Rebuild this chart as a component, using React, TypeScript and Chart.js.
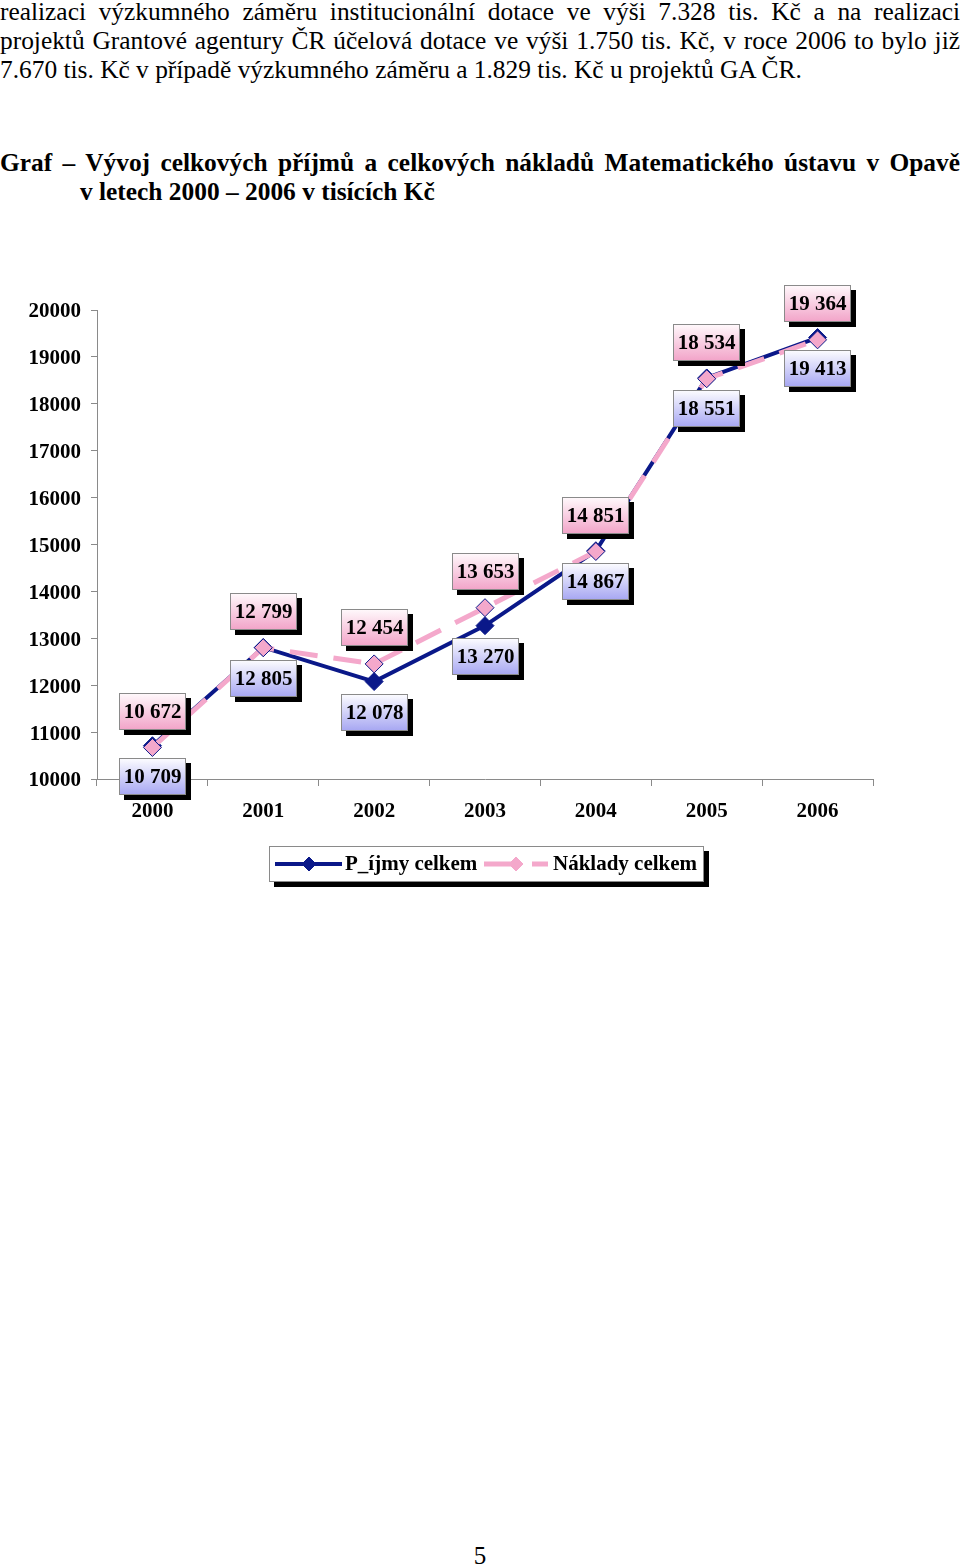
import React, { useEffect, useRef } from "react";
import { Chart, registerables } from "chart.js";

Chart.register(...registerables);

const years = ["2000", "2001", "2002", "2003", "2004", "2005", "2006"];
const prijmy = [10709, 12805, 12078, 13270, 14867, 18551, 19413];
const naklady = [10672, 12799, 12454, 13653, 14851, 18534, 19364];
const seriesNames = ["P_íjmy celkem", "Náklady celkem"];
const yMin = 10000;
const yMax = 20000;
const yStep = 1000;

const NAVY = "#0A1889";
const PINK = "#F4A8CB";
const SERIF = '"Liberation Serif", "Times New Roman", serif';
const CHART_FONT = { family: SERIF, size: 21, weight: "bold" as const };

const paragraphLines = [
  "realizaci výzkumného záměru institucionální dotace ve výši 7.328 tis. Kč a na realizaci",
  "projektů Grantové agentury ČR účelová dotace ve výši 1.750 tis. Kč, v roce 2006 to bylo již",
  "7.670 tis. Kč v případě výzkumného záměru a 1.829 tis. Kč u projektů GA ČR.",
];
const titleLine1 = "Graf – Vývoj celkových příjmů a celkových nákladů Matematického ústavu v Opavě";
const titleLine2 = "v letech 2000 – 2006 v tisících Kč";

const fmt = (v: number) => {
  const s = String(Math.round(v));
  return s.replace(/\B(?=(\d{3})+(?!\d))/g, " ");
};

const valueBoxes = {
  id: "valueBoxes",
  afterDatasetsDraw(chart: any) {
    const ctx = chart.ctx as CanvasRenderingContext2D;
    ctx.save();
    chart.data.datasets.forEach((ds: any, di: number) => {
      const meta = chart.getDatasetMeta(di);
      meta.data.forEach((pt: any, i: number) => {
        const v = ds.data[i];
        const w = 67;
        const h = 37;
        const cy = di === 1 ? pt.y - 36 : pt.y + 31;
        const x = Math.round(pt.x - w / 2);
        const y = Math.round(cy - h / 2);
        ctx.fillStyle = "#000";
        ctx.fillRect(x + 5, y + 5, w, h);
        const g = ctx.createLinearGradient(0, y, 0, y + h);
        if (di === 1) {
          g.addColorStop(0, "#FFFAFC");
          g.addColorStop(1, "#F2A3C8");
        } else {
          g.addColorStop(0, "#FDFDFF");
          g.addColorStop(1, "#A6A6F2");
        }
        ctx.fillStyle = g;
        ctx.fillRect(x, y, w, h);
        ctx.strokeStyle = "#8A8A8A";
        ctx.lineWidth = 1;
        ctx.strokeRect(x + 0.5, y + 0.5, w - 1, h - 1);
        ctx.fillStyle = "#000";
        ctx.font = `bold 21px ${SERIF}`;
        ctx.textAlign = "center";
        ctx.textBaseline = "middle";
        ctx.fillText(fmt(v), x + w / 2, y + h / 2 + 1);
      });
    });
    ctx.restore();
  },
};

function drawDiamond(ctx: CanvasRenderingContext2D, x: number, y: number, r: number, fill: string, stroke: string) {
  ctx.beginPath();
  ctx.moveTo(x, y - r);
  ctx.lineTo(x + r, y);
  ctx.lineTo(x, y + r);
  ctx.lineTo(x - r, y);
  ctx.closePath();
  ctx.fillStyle = fill;
  ctx.fill();
  ctx.lineWidth = 1;
  ctx.strokeStyle = stroke;
  ctx.stroke();
}

const boxLegend = {
  id: "boxLegend",
  afterDraw(chart: any) {
    const ctx = chart.ctx as CanvasRenderingContext2D;
    const ca = chart.chartArea;
    const cx = (ca.left + ca.right) / 2;
    const w = 435;
    const h = 36;
    const left = Math.round(cx - w / 2) + 1;
    const top = Math.round(ca.bottom + 67);
    const mid = top + h / 2;
    ctx.save();
    ctx.fillStyle = "#000";
    ctx.fillRect(left + 5, top + 5, w, h);
    ctx.fillStyle = "#fff";
    ctx.fillRect(left, top, w, h);
    ctx.strokeStyle = "#8A8A8A";
    ctx.lineWidth = 1;
    ctx.strokeRect(left + 0.5, top + 0.5, w - 1, h - 1);

    const ds = chart.data.datasets;
    ctx.strokeStyle = ds[0].borderColor;
    ctx.lineWidth = 4;
    ctx.setLineDash([]);
    ctx.beginPath();
    ctx.moveTo(left + 6, mid);
    ctx.lineTo(left + 73, mid);
    ctx.stroke();
    drawDiamond(ctx, left + 40, mid, 7, ds[0].pointBackgroundColor, ds[0].pointBorderColor);
    ctx.fillStyle = "#000";
    ctx.font = `bold 21px ${SERIF}`;
    ctx.textAlign = "left";
    ctx.textBaseline = "middle";
    ctx.fillText(ds[0].label, left + 76, mid + 1);

    ctx.strokeStyle = ds[1].borderColor;
    ctx.lineWidth = 5;
    ctx.setLineDash([30, 18]);
    ctx.beginPath();
    ctx.moveTo(left + 215, mid);
    ctx.lineTo(left + 279, mid);
    ctx.stroke();
    ctx.setLineDash([]);
    drawDiamond(ctx, left + 247, mid, 7, ds[1].pointBackgroundColor, ds[1].pointBackgroundColor);
    ctx.fillStyle = "#000";
    ctx.fillText(ds[1].label, left + 284, mid + 1);
    ctx.restore();
  },
};

function LineChart() {
  const ref = useRef<HTMLCanvasElement | null>(null);
  useEffect(() => {
    if (!ref.current) return;
    const chart = new Chart(ref.current, {
      type: "line",
      data: {
        labels: years,
        datasets: [
          {
            label: seriesNames[0],
            data: prijmy,
            borderColor: NAVY,
            backgroundColor: NAVY,
            borderWidth: 4,
            pointStyle: "rectRot",
            pointRadius: 9,
            pointBackgroundColor: NAVY,
            pointBorderColor: NAVY,
            pointBorderWidth: 1,
            tension: 0,
            order: 1,
          },
          {
            label: seriesNames[1],
            data: naklady,
            borderColor: PINK,
            backgroundColor: PINK,
            borderWidth: 5,
            borderDash: [28, 16],
            pointStyle: "rectRot",
            pointRadius: 9,
            pointBackgroundColor: PINK,
            pointBorderColor: NAVY,
            pointBorderWidth: 1,
            tension: 0,
            order: 0,
          },
        ],
      },
      options: {
        animation: false,
        responsive: false,
        devicePixelRatio: 1,
        layout: { padding: { top: 30, right: 87, bottom: 71, left: 0 } },
        plugins: {
          legend: { display: false },
          tooltip: { enabled: false },
        },
        scales: {
          x: {
            type: "category",
            offset: true,
            grid: {
              display: true,
              drawOnChartArea: false,
              offset: true,
              tickLength: 7,
              color: "#8A8A8A",
            },
            border: { display: true, color: "#8A8A8A", width: 1 },
            ticks: { font: CHART_FONT, color: "#000", padding: 13, maxRotation: 0 },
            afterFit: (s: any) => {
              s.height = 50;
            },
          },
          y: {
            min: yMin,
            max: yMax,
            grid: {
              display: true,
              drawOnChartArea: false,
              tickLength: 6,
              color: "#8A8A8A",
            },
            border: { display: true, color: "#8A8A8A", width: 1 },
            ticks: {
              stepSize: yStep,
              font: CHART_FONT,
              color: "#000",
              padding: 10,
              labelOffset: 2,
              callback: (v: any) => String(v),
            },
            afterFit: (s: any) => {
              s.width = 97;
            },
          },
        },
      },
      plugins: [valueBoxes, boxLegend],
    });
    return () => chart.destroy();
  }, []);
  return <canvas ref={ref} width={960} height={620} style={{ display: "block", width: 960, height: 620 }} />;
}

export default function App() {
  const bodyText: React.CSSProperties = {
    fontFamily: SERIF,
    fontSize: 25.4,
    lineHeight: "29px",
    color: "#000",
    width: 960,
    textAlign: "justify",
  };
  return (
    <div style={{ position: "absolute", left: 0, top: 0, width: 960, height: 1566, background: "#fff", overflow: "hidden" }}>
      <div style={{ position: "absolute", left: 0, top: -3 }}>
        {paragraphLines.map((l, i) => (
          <div key={i} style={{ ...bodyText, textAlignLast: i < paragraphLines.length - 1 ? "justify" : "left" } as React.CSSProperties}>
            {l}
          </div>
        ))}
      </div>
      <div style={{ position: "absolute", left: 0, top: 148 }}>
        <div style={{ ...bodyText, fontWeight: "bold", textAlignLast: "justify" } as React.CSSProperties}>{titleLine1}</div>
        <div style={{ ...bodyText, fontWeight: "bold", paddingLeft: 80, width: 880, textAlign: "left" }}>{titleLine2}</div>
      </div>
      <div style={{ position: "absolute", left: 0, top: 280 }}>
        <LineChart />
      </div>
      <div style={{ position: "absolute", left: 0, top: 1541, width: 960, textAlign: "center", fontFamily: SERIF, fontSize: 25, lineHeight: "29px" }}>
        5
      </div>
    </div>
  );
}
